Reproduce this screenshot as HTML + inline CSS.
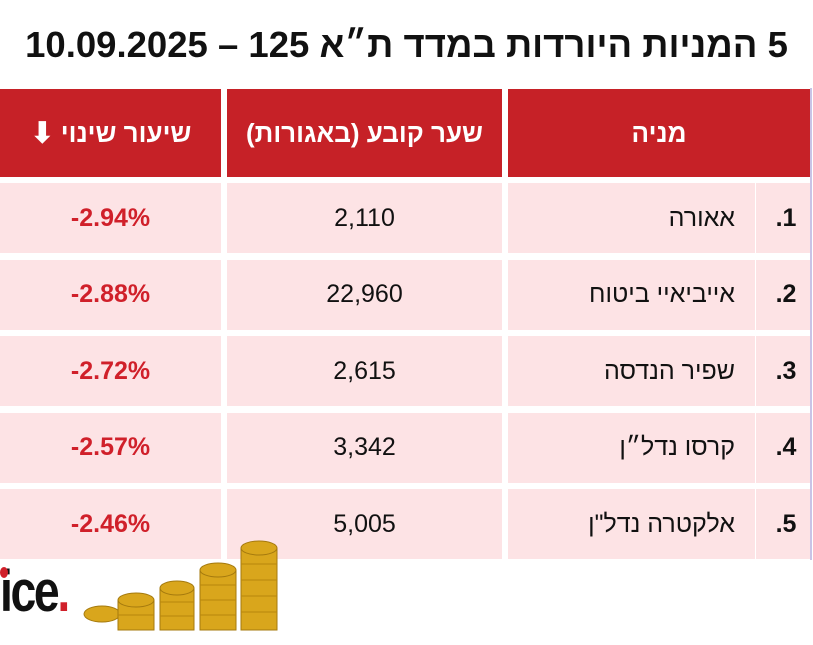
<!DOCTYPE html>
<html><head><meta charset="utf-8"><style>
body{margin:0;width:813px;height:645px;background:#fff;position:relative;overflow:hidden;font-family:"Liberation Sans","DejaVu Sans",sans-serif}
.t{position:absolute;left:0;width:813px;top:24px;text-align:center;font-weight:bold;font-size:36.5px;color:#111;direction:rtl}
.c{position:absolute;display:flex;align-items:center;justify-content:center}
.h{background:#c62127;color:#fff;font-weight:bold;font-size:26px;direction:rtl}
.p{background:#fde3e5;font-size:25px;color:#111}
.r{color:#d0202a;font-weight:bold}
</style></head><body>
<div class="t">5 המניות היורדות במדד ת״א 125 – 10.09.2025</div>
<div style="position:absolute;left:810px;top:88px;width:2px;height:472px;background:#c9c3e6"></div>
<div class="c h" style="left:0;top:89px;width:221px;height:88px">שיעור שינוי<span style="margin-right:6px;font-size:30px">&#11015;</span></div>
<div class="c h" style="left:227px;top:89px;width:275px;height:88px">שער קובע (באגורות)</div>
<div class="c h" style="left:508px;top:89px;width:302px;height:88px">מניה</div>
<div id="rows"></div>
<script>
var d=[["-2.94%","2,110","אאורה"],["-2.88%","22,960","אייביאיי ביטוח"],["-2.72%","2,615","שפיר הנדסה"],["-2.57%","3,342","קרסו נדל״ן"],["-2.46%","5,005","אלקטרה נדל\"ן"]];
var h="";d.forEach(function(r,i){var y=183+i*76.5;
h+='<div class="c p r" style="left:0;top:'+y+'px;width:221px;height:70px">'+r[0]+'</div>';
h+='<div class="c p" style="left:227px;top:'+y+'px;width:275px;height:70px">'+r[1]+'</div>';
h+='<div class="c p" style="left:508px;top:'+y+'px;width:247px;height:70px;justify-content:flex-end"><span style="margin-right:20px;direction:rtl">'+r[2]+'</span></div>';
h+='<div class="c p" style="left:756px;top:'+y+'px;width:54px;height:70px;font-weight:bold;font-size:25px;padding-left:6px;box-sizing:border-box">.'+(i+1)+'</div>';});
document.getElementById("rows").innerHTML=h;
</script>
<div style="position:absolute;left:0;top:560px;font-weight:bold;font-size:58px;letter-spacing:-3px;color:#111;line-height:64px;transform:scaleX(0.8);transform-origin:left">ice<span style="color:#d0202a">.</span></div>
<div style="position:absolute;left:0;top:567px;width:8px;height:11px;background:#d0202a;border-radius:50%"></div>
<svg style="position:absolute;left:0;top:0" width="813" height="645">
<g fill="#d9a61c" stroke="#a57a0e" stroke-width="1">
<ellipse cx="102" cy="614" rx="18" ry="8"/>
<rect x="118" y="600" width="36" height="30"/><ellipse cx="136" cy="600" rx="18" ry="7"/>
<rect x="160" y="588" width="34" height="42"/><ellipse cx="177" cy="588" rx="17" ry="7"/>
<rect x="200" y="570" width="36" height="60"/><ellipse cx="218" cy="570" rx="18" ry="7"/>
<rect x="241" y="548" width="36" height="82"/><ellipse cx="259" cy="548" rx="18" ry="7"/>
</g>
<g stroke="#b8860b" stroke-width="1">
<line x1="118" y1="615" x2="154" y2="615"/>
<line x1="160" y1="602" x2="194" y2="602"/><line x1="160" y1="616" x2="194" y2="616"/>
<line x1="200" y1="585" x2="236" y2="585"/><line x1="200" y1="600" x2="236" y2="600"/><line x1="200" y1="615" x2="236" y2="615"/>
<line x1="241" y1="564" x2="277" y2="564"/><line x1="241" y1="580" x2="277" y2="580"/><line x1="241" y1="596" x2="277" y2="596"/><line x1="241" y1="612" x2="277" y2="612"/>
</g></svg>
</body></html>
